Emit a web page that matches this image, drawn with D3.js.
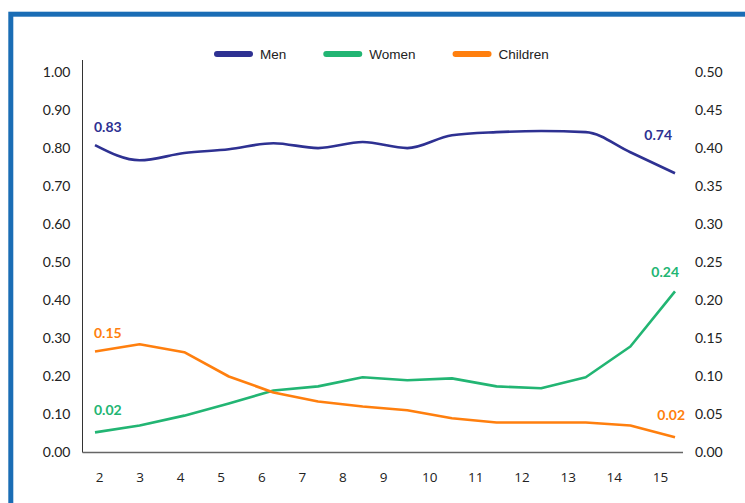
<!DOCTYPE html>
<html>
<head>
<meta charset="utf-8">
<script src="https://cdn.jsdelivr.net/npm/d3@7"></script>
<style>
  body { margin: 0; background: #fff; }
  svg { display: block; }
</style>
</head>
<body>
<svg id="chart"></svg>
<script>
const width = 745;
const height = 503;

// data
const weeks = [2, 3, 4, 5, 6, 7, 8, 9, 10, 11, 12, 13, 14, 15];
const men = [0.809, 0.769, 0.788, 0.798, 0.814, 0.801, 0.817, 0.801, 0.835, 0.843, 0.846, 0.843, 0.790, 0.735];
const women = [0.053, 0.071, 0.097, 0.129, 0.163, 0.174, 0.198, 0.190, 0.195, 0.174, 0.169, 0.198, 0.279, 0.424];
const children = [0.266, 0.285, 0.264, 0.200, 0.158, 0.134, 0.121, 0.111, 0.090, 0.079, 0.079, 0.079, 0.071, 0.040];
const seriesNames = ["Men", "Women", "Children"];
const leftTicks = [0, 0.1, 0.2, 0.3, 0.4, 0.5, 0.6, 0.7, 0.8, 0.9, 1.0];
const rightTicks = [0, 0.05, 0.1, 0.15, 0.2, 0.25, 0.3, 0.35, 0.4, 0.45, 0.5];
const startLabels = ["0.83", "0.02", "0.15"];
const endLabels = ["0.74", "0.24", "0.02"];

const colors = {Men: "#2e3192", Women: "#22b573", Children: "#ff7f0e"};
const series = [
  {name: "Men", values: men, curve: d3.curveMonotoneX},
  {name: "Women", values: women, curve: d3.curveLinear},
  {name: "Children", values: children, curve: d3.curveLinear}
];

const svg = d3.select("#chart")
  .attr("width", width)
  .attr("height", height);

// blue frame, runs off the right and bottom edge
svg.append("rect")
  .attr("x", 10.8).attr("y", 14.2)
  .attr("width", 800).attr("height", 600)
  .attr("fill", "none")
  .attr("stroke", "#1a6db5")
  .attr("stroke-width", 5);

const plotLeft = 82.5, plotRight = 683, plotBottom = 452.5, plotTop = 60;

const x = d3.scalePoint().domain(weeks).range([95, 675]);
// the tick labels in the source are not evenly spaced
const xLabel = d3.scaleLinear().domain([2, 9, 15]).range([99, 383, 660]);
const y = d3.scaleLinear().domain([0, 1]).range([plotBottom, 72.5]);
const y2 = d3.scaleLinear().domain([0, 0.5]).range([plotBottom, 72.5]);

// axes
const leftAxis = svg.append("g")
  .attr("transform", `translate(${plotLeft},0)`)
  .call(d3.axisLeft(y).tickValues(leftTicks).tickFormat(d3.format(".2f")).tickSize(0).tickPadding(12));
leftAxis.select(".domain").remove();

const rightAxis = svg.append("g")
  .attr("transform", `translate(${plotRight},0)`)
  .call(d3.axisRight(y2).tickValues(rightTicks).tickFormat(d3.format(".2f")).tickSize(0).tickPadding(12));
rightAxis.select(".domain").remove();

svg.selectAll(".tick text")
  .attr("font-family", "Lato, 'Open Sans', sans-serif")
  .attr("font-size", 14)
  .attr("fill", "#222");

const bottomAxis = svg.append("g")
  .attr("transform", `translate(0,${plotBottom})`)
  .call(d3.axisBottom(xLabel).tickValues(weeks).tickFormat(d3.format("d")).tickSize(0).tickPadding(20));
bottomAxis.select(".domain").remove();
bottomAxis.selectAll("text")
  .attr("font-family", "'Open Sans', sans-serif")
  .attr("font-size", 13.5)
  .attr("fill", "#222");

svg.append("line")
  .attr("x1", plotLeft).attr("x2", plotLeft)
  .attr("y1", plotTop).attr("y2", plotBottom)
  .attr("stroke", "#333").attr("stroke-width", 1);
svg.append("line")
  .attr("x1", plotLeft).attr("x2", plotRight)
  .attr("y1", plotBottom).attr("y2", plotBottom)
  .attr("stroke", "#666").attr("stroke-width", 1.5);

// lines
series.forEach(s => {
  const line = d3.line()
    .x((d, i) => x(weeks[i]))
    .y(d => y(d))
    .curve(s.curve);
  svg.append("path")
    .datum(s.values)
    .attr("fill", "none")
    .attr("stroke", colors[s.name])
    .attr("stroke-width", 2.6)
    .attr("stroke-linejoin", "round")
    .attr("d", line);
});

// value labels at both ends
const startOffsets = [[-1, -13], [-1, -17], [-1, -13]];
const endOffsets = [[-3, -33], [4, -14], [10, -17]];
series.forEach((s, k) => {
  const n = s.values.length;
  svg.append("text")
    .attr("x", x(weeks[0]) + startOffsets[k][0])
    .attr("y", y(s.values[0]) + startOffsets[k][1])
    .attr("font-family", "Lato, sans-serif")
    .attr("font-weight", "bold")
    .attr("font-size", 14)
    .attr("fill", colors[s.name])
    .text(startLabels[k]);
  svg.append("text")
    .attr("x", x(weeks[n - 1]) + endOffsets[k][0])
    .attr("y", y(s.values[n - 1]) + endOffsets[k][1])
    .attr("text-anchor", "end")
    .attr("font-family", "Lato, sans-serif")
    .attr("font-weight", "bold")
    .attr("font-size", 14)
    .attr("fill", colors[s.name])
    .text(endLabels[k]);
});

// legend
const legend = svg.append("g").attr("transform", "translate(0,54)");
let lx = 217;
seriesNames.forEach(name => {
  legend.append("line")
    .attr("x1", lx).attr("x2", lx + 33)
    .attr("stroke", colors[name])
    .attr("stroke-width", 6)
    .attr("stroke-linecap", "round");
  const t = legend.append("text")
    .attr("x", lx + 43)
    .attr("dy", "0.35em")
    .attr("font-family", "'Liberation Sans', Arial, sans-serif")
    .attr("font-size", 13.5)
    .attr("fill", "#222")
    .text(name);
  lx += 43 + t.node().getComputedTextLength() + 40;
});
</script>
</body>
</html>
